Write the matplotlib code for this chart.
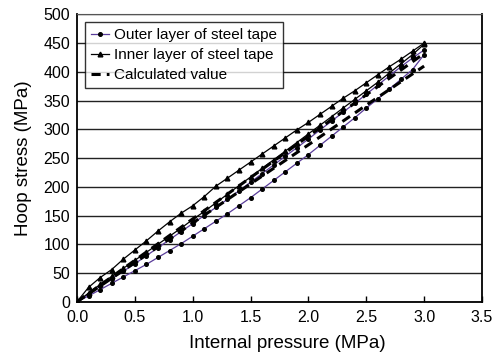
import matplotlib
matplotlib.use('Agg')
import matplotlib.pyplot as plt

plt.rcParams['font.family'] = ['Liberation Sans', 'DejaVu Sans']

# internal pressure steps (MPa)
pressure = [0.0, 0.1, 0.2, 0.3, 0.4, 0.5, 0.6, 0.7, 0.8, 0.9, 1.0,
            1.1, 1.2, 1.3, 1.4, 1.5, 1.6, 1.7, 1.8, 1.9, 2.0,
            2.1, 2.2, 2.3, 2.4, 2.5, 2.6, 2.7, 2.8, 2.9, 3.0]

# measured hoop stress, outer layer of steel tape (two gauges)
outer_1 = [0, 13, 27, 40, 53, 66, 80, 94, 108, 122, 136,
           150, 164, 178, 193, 208, 223, 238, 253, 268, 283,
           299, 314, 330, 345, 361, 377, 393, 409, 424, 438]
outer_2 = [0, 10, 21, 32, 43, 54, 65, 77, 89, 101, 114,
           127, 140, 153, 167, 181, 196, 211, 226, 241, 256,
           272, 288, 304, 320, 337, 353, 370, 387, 404, 430]

# measured hoop stress, inner layer of steel tape (two gauges)
inner_1 = [0, 25, 42, 56, 74, 90, 106, 123, 139, 154, 167,
           183, 201, 215, 229, 243, 257, 271, 285, 299, 312,
           326, 340, 354, 367, 381, 395, 409, 422, 436, 450]
inner_2 = [0, 15, 30, 44, 58, 72, 86, 100, 114, 128, 143,
           157, 172, 187, 202, 217, 232, 247, 262, 277, 292,
           307, 322, 337, 352, 367, 382, 398, 414, 430, 448]

# calculated hoop stress
calc_pressure = [0.0, 0.5, 1.0, 1.5, 2.0, 2.5, 3.0]
calc_1 = [0, 72, 144, 216, 288, 360, 432]
calc_2 = [0, 68, 137, 205, 273, 342, 410]

fig = plt.figure(figsize=(5.01, 3.59), dpi=100)
ax = fig.add_axes([0.1537, 0.1596, 0.8083, 0.8004])

purple = '#5a3d9a'
ax.plot(pressure, outer_1, color=purple, lw=0.9, marker='o', ms=2.6,
        mfc='black', mec='black', label='Outer layer of steel tape', zorder=3)
ax.plot(pressure, outer_2, color=purple, lw=0.9, marker='o', ms=2.6,
        mfc='black', mec='black', zorder=3)
ax.plot(pressure, inner_1, color='black', lw=0.9, marker='^', ms=3.4,
        label='Inner layer of steel tape', zorder=3)
ax.plot(pressure, inner_2, color='black', lw=0.9, marker='^', ms=3.4, zorder=3)
ax.plot(calc_pressure, calc_1, color='black', lw=2.2, ls=(0, (3, 2)),
        label='Calculated value', zorder=4)
ax.plot(calc_pressure, calc_2, color='black', lw=2.2, ls=(0, (3, 2)), zorder=4)

ax.set_xlim(0, 3.5)
ax.set_ylim(0, 500)
ax.set_xticks([0.0, 0.5, 1.0, 1.5, 2.0, 2.5, 3.0, 3.5])
ax.set_xticklabels(['0.0', '0.5', '1.0', '1.5', '2.0', '2.5', '3.0', '3.5'])
ax.set_yticks(range(0, 501, 50))
ax.yaxis.grid(True, color='#222222', lw=1.0)
ax.set_axisbelow(True)
ax.tick_params(axis='x', direction='in', length=4, width=1, labelsize=11.5, pad=6)
ax.tick_params(axis='y', direction='out', length=0, labelsize=11.5, pad=5)
for side in ['left', 'bottom', 'right']:
    ax.spines[side].set_linewidth(1.3)
    ax.spines[side].set_color('black')
ax.spines['top'].set_color('#555555')

ax.set_xlabel('Internal pressure (MPa)', fontsize=13.5, labelpad=9)
ax.xaxis.set_label_coords(0.52, -0.115)
ax.set_ylabel('Hoop stress (MPa)', fontsize=13.5, labelpad=8)

leg = ax.legend(loc='upper left', fontsize=11, frameon=True, fancybox=False,
                edgecolor='black', handlelength=1.2, handletextpad=0.3,
                labelspacing=0.4, borderpad=0.4, borderaxespad=0.5)
leg.get_frame().set_linewidth(1.0)

fig.savefig('out.png', dpi=100)
